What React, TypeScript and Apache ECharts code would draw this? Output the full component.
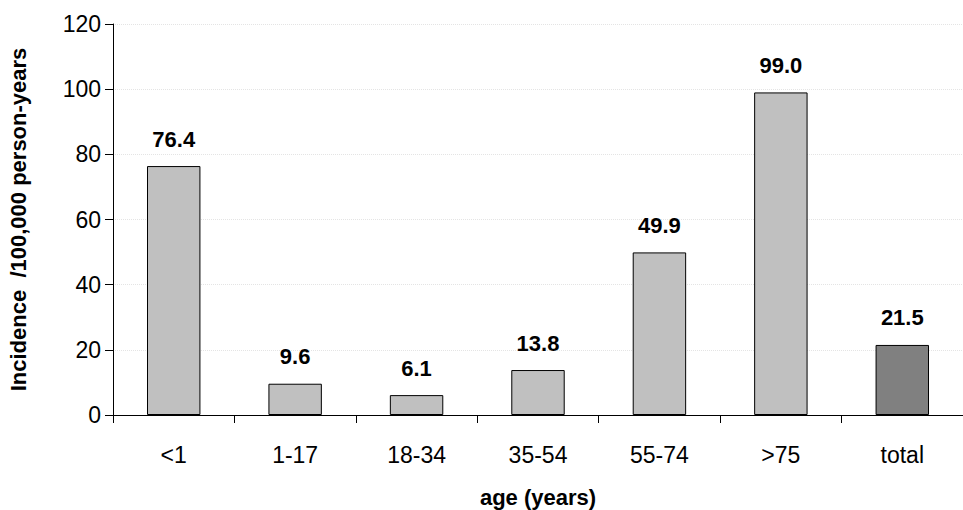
import * as echarts from "echarts";
import { useEffect, useRef } from "react";

const categories = ["<1", "1-17", "18-34", "35-54", "55-74", ">75", "total"];
const incidence = [76.4, 9.6, 6.1, 13.8, 49.9, 99.0, 21.5];
const barColors = ["#c0c0c0", "#c0c0c0", "#c0c0c0", "#c0c0c0", "#c0c0c0", "#c0c0c0", "#808080"];

export default function App() {
  const ref = useRef<HTMLDivElement | null>(null);

  useEffect(() => {
    if (!ref.current) {
      return;
    }
    const chart = echarts.init(ref.current, null, { renderer: "svg" });
    const font = "Arial, 'Liberation Sans', sans-serif";
    chart.setOption({
      animation: false,
      grid: { left: 113, right: 0, top: 24, bottom: 95, outerBoundsMode: "none" },
      xAxis: {
        type: "category",
        data: categories,
        name: "age (years)",
        nameLocation: "middle",
        nameGap: 71,
        nameTextStyle: { fontFamily: font, fontSize: 22, fontWeight: "bold", color: "#000" },
        axisLine: { lineStyle: { color: "#000", width: 1 } },
        axisTick: { show: true, length: 8, lineStyle: { color: "#000" } },
        axisLabel: { fontFamily: font, fontSize: 23, color: "#000", margin: 28 }
      },
      yAxis: {
        type: "value",
        min: 0,
        max: 120,
        interval: 20,
        name: "Incidence  /100,000 person-years",
        nameLocation: "middle",
        nameGap: 84,
        nameTextStyle: { fontFamily: font, fontSize: 22, fontWeight: "bold", color: "#000" },
        axisLine: { show: true, lineStyle: { color: "#000", width: 1 } },
        axisTick: { show: true, length: 8, lineStyle: { color: "#000" } },
        axisLabel: { fontFamily: font, fontSize: 23, color: "#000", margin: 12 },
        splitLine: { show: true, lineStyle: { color: "#e4e4e4", type: "dotted", width: 1 } }
      },
      series: [
        {
          type: "bar",
          barWidth: "44%",
          data: incidence.map((v, i) => ({
            value: v,
            itemStyle: { color: barColors[i], borderColor: "#000", borderWidth: 1 }
          })),
          label: {
            show: true,
            position: "top",
            distance: 16,
            formatter: (p: { value: number }) => p.value.toFixed(1),
            fontFamily: font,
            fontSize: 22,
            fontWeight: "bold",
            color: "#000"
          }
        }
      ]
    });
    return () => {
      chart.dispose();
    };
  }, []);

  return (
    <div
      ref={ref}
      style={{ position: "absolute", left: 0, top: 0, width: 963, height: 510 }}
    />
  );
}
